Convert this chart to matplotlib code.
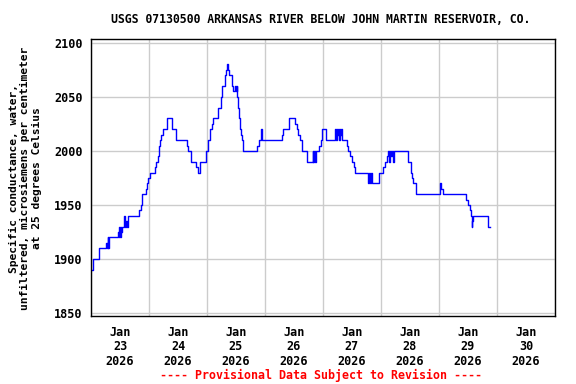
import numpy as np
import pandas as pd
import matplotlib
matplotlib.use("Agg")
import matplotlib.pyplot as plt

TITLE = "USGS 07130500 ARKANSAS RIVER BELOW JOHN MARTIN RESERVOIR, CO."
Y_LABEL = "Specific conductance, water,\nunfiltered, microsiemens per centimeter\nat 25 degrees Celsius"
FOOTER = "---- Provisional Data Subject to Revision ----"
START = pd.Timestamp("2026-01-23 00:00")
DAYS = ["23", "24", "25", "26", "27", "28", "29", "30"]

#Hours since Jan 23 00:00 where the reading changes, and the reading from then on
hours = [0.41, 0.62, 3.31, 6.33, 6.62, 6.83, 7.03, 7.32, 11.17, 11.46,
         11.71, 12.0, 12.29, 12.54, 13.03, 13.66, 13.94, 14.61, 14.90, 15.19,
         19.86, 20.57, 21.10, 22.63, 23.05, 23.71, 24.29, 26.36, 26.77, 27.85,
         28.14, 28.55, 28.97, 29.67, 31.32, 31.57, 33.64, 35.05, 39.60, 40.26,
         41.26, 43.45, 44.15, 45.10, 47.59, 48.54, 49.24, 49.94, 50.36, 52.68,
         53.67, 54.33, 55.45, 55.86, 56.15, 56.56, 56.98, 58.22, 58.88, 59.59,
         60.0, 60.29, 60.41, 60.70, 61.24, 61.53, 62.07, 62.36, 62.77, 68.57,
         69.52, 70.22, 70.88, 78.91, 79.57, 81.93, 84.41, 85.12, 85.78, 86.48,
         87.19, 89.26, 91.74, 91.99, 92.28, 92.57, 93.10, 94.47, 95.17, 95.71,
         97.24, 100.97, 101.26, 101.67, 101.92, 102.21, 102.62, 102.91, 103.16, 103.45,
         103.99, 106.06, 106.47, 107.17, 107.88, 108.70, 109.12, 114.74, 115.03, 115.45,
         115.74, 116.15, 116.69, 119.30, 120.95, 121.66, 122.36, 123.02, 123.31, 123.60,
         124.14, 124.55, 124.97, 125.26, 131.30, 132.41, 132.83, 133.37, 134.36, 144.41,
         144.83, 145.78, 155.17, 156.12, 156.83, 157.24, 157.53, 157.78, 158.07, 164.40,
         165.10]
values = [1890, 1900, 1910, 1915, 1910, 1920, 1910, 1920, 1925, 1920,
          1930, 1920, 1930, 1925, 1930, 1940, 1930, 1935, 1930, 1940,
          1945, 1950, 1960, 1965, 1970, 1975, 1980, 1985, 1990, 1995,
          2005, 2010, 2015, 2020, 2025, 2030, 2020, 2010, 2005, 2000,
          1990, 1985, 1980, 1990, 2000, 2010, 2020, 2025, 2030, 2040,
          2050, 2060, 2070, 2075, 2080, 2075, 2070, 2060, 2055, 2060,
          2055, 2060, 2050, 2040, 2030, 2020, 2015, 2010, 2000, 2005,
          2010, 2020, 2010, 2015, 2020, 2030, 2025, 2020, 2015, 2010,
          2000, 1990, 2000, 1990, 2000, 1990, 2000, 2005, 2010, 2020,
          2010, 2020, 2010, 2020, 2015, 2020, 2010, 2020, 2015, 2020,
          2010, 2005, 2000, 1995, 1990, 1985, 1980, 1970, 1980, 1970,
          1980, 1970, 1970, 1980, 1985, 1990, 1995, 2000, 1990, 2000,
          1995, 2000, 1990, 2000, 1990, 1980, 1975, 1970, 1960, 1970,
          1965, 1960, 1955, 1950, 1945, 1940, 1930, 1935, 1940, 1930,
          1930]

times = START + pd.to_timedelta(hours, unit="h")

plt.rcParams['font.family'] = ['DejaVu Sans Mono']
plt.rcParams['font.weight'] = 'bold'

fig = plt.figure(figsize=(5.76, 3.84), dpi=100)
ax = fig.add_axes([0.158, 0.177, 0.8055, 0.721])

ax.plot(times, values, color='#0000ff', linewidth=1.0, drawstyle='steps-post')

#Grid lines at midnight, date labels at noon
midnights = [START + pd.Timedelta(days=d) for d in range(9)]
noons = [START + pd.Timedelta(days=d, hours=12) for d in range(8)]
ax.set_xticks(midnights)
ax.set_xticklabels([])
ax.set_xticks(noons, minor=True)
ax.set_xticklabels([f"Jan\n{d}\n2026" for d in DAYS], minor=True, fontsize=8.5,
                   fontweight='bold', linespacing=1.15)
ax.tick_params(axis='x', which='both', length=0, pad=7)
ax.set_xlim(midnights[0], midnights[-1])

ax.set_yticks(np.arange(1850, 2101, 50))
ax.set_ylim(1847.2, 2103.4)
ax.tick_params(axis='y', length=0, pad=6, labelsize=8.5)
for lbl in ax.get_yticklabels():
    lbl.set_fontweight('bold')

ax.grid(True, which='major', color='#cccccc', linewidth=1.0)
ax.set_axisbelow(True)
for spine in ax.spines.values():
    spine.set_linewidth(1.0)
    spine.set_color('black')

fig.text(0.557, 0.95, TITLE, ha='center', va='center', fontsize=8.3, fontweight='bold')
fig.text(0.044, 0.535, Y_LABEL, ha='center', va='center', rotation=90,
         multialignment='center', fontsize=8.1, fontweight='bold', linespacing=1.15)
fig.text(0.557, 0.023, FOOTER, ha='center', va='center', fontsize=8.4,
         fontweight='bold', color='#ff0000')

fig.savefig('out.png', dpi=100)
